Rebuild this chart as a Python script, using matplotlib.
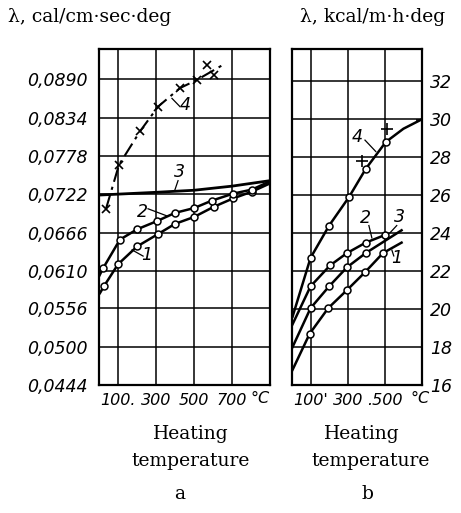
import matplotlib
matplotlib.use("Agg")
import matplotlib.pyplot as plt

# ---- panel a: lambda, cal/cm.sec.deg vs heating temperature ----
a_yticks = [0.0444, 0.0500, 0.0556, 0.0610, 0.0666, 0.0722, 0.0778, 0.0834, 0.0890]
a_ylabels = ['0,0444', '0,0500', '0,0556', '0,0610', '0,0666', '0,0722', '0,0778', '0,0834', '0,0890']
a_xticks = [100, 300, 500, 700]
a_xlabels = ['100.', '300', '500', '700']

a1_t = [26, 100, 200, 310, 400, 500, 605, 705, 805]
a1_v = [0.0588, 0.0620, 0.0646, 0.0664, 0.0679, 0.0689, 0.0704, 0.0716, 0.0726]
a1_line_t = [5, 26, 100, 200, 310, 400, 500, 605, 705, 805, 900]
a1_line_v = [0.0578, 0.0588, 0.0620, 0.0646, 0.0664, 0.0679, 0.0689, 0.0704, 0.0716, 0.0726, 0.0738]

a2_t = [21, 110, 200, 305, 400, 500, 595, 705, 805]
a2_v = [0.0614, 0.0656, 0.0671, 0.0683, 0.0695, 0.0702, 0.0713, 0.0723, 0.0729]
a2_line_t = [3, 21, 110, 200, 305, 400, 500, 595, 705, 805, 900]
a2_line_v = [0.0604, 0.0614, 0.0656, 0.0671, 0.0683, 0.0695, 0.0702, 0.0713, 0.0723, 0.0729, 0.0741]

a3_line_t = [0, 300, 500, 700, 900]
a3_line_v = [0.0721, 0.0725, 0.0728, 0.0734, 0.0742]

a4_t = [37, 105, 216, 311, 426, 516, 568, 605]
a4_v = [0.0701, 0.0765, 0.0814, 0.0850, 0.0877, 0.0889, 0.0911, 0.0896]
a4_line_t = [37, 105, 216, 311, 426, 516, 647]
a4_line_v = [0.0701, 0.0765, 0.0814, 0.0850, 0.0877, 0.0889, 0.0910]

# label position, leader start, leader end
a_labels = {
    '1': [(253, 0.0633), (174, 0.0641), (232, 0.0632)],
    '2': [(226, 0.0697), (258, 0.0701), (363, 0.0690)],
    '3': [(426, 0.0755), (416, 0.0742), (400, 0.0729)],
    '4': [(453, 0.0852), (384, 0.0862), (426, 0.0850)],
}

# ---- panel b: lambda, kcal/m.h.deg vs heating temperature ----
b_yticks = [16, 18, 20, 22, 24, 26, 28, 30, 32]
b_xticks = [100, 300, 500]
b_xlabels = ["100'", '300', '.500']

b1_t = [95, 195, 296, 394, 490]
b1_v = [18.7, 20.05, 21.0, 21.95, 22.95]
b1_line_t = [3, 95, 195, 296, 394, 490, 590]
b1_line_v = [16.8, 18.7, 20.05, 21.0, 21.95, 22.95, 23.5]

b2_t = [100, 205, 296, 397, 500]
b2_v = [21.2, 22.3, 22.95, 23.5, 23.9]
b2_line_t = [3, 100, 205, 296, 397, 500]
b2_line_v = [19.2, 21.2, 22.3, 22.95, 23.5, 23.9]

b3_t = [100, 200, 296, 397]
b3_v = [20.05, 21.2, 22.2, 22.95]
b3_line_t = [3, 100, 200, 296, 397, 590]
b3_line_v = [18.0, 20.05, 21.2, 22.2, 22.95, 24.15]

b4_t = [100, 200, 307, 398, 505]
b4_v = [22.7, 24.4, 25.9, 27.4, 28.8]
b4_cross_t = [376, 510, 700]
b4_cross_v = [27.8, 29.5, 29.95]
b4_line_t = [3, 100, 200, 307, 398, 505, 600, 700]
b4_line_v = [19.6, 22.7, 24.4, 25.9, 27.4, 28.8, 29.5, 30.0]

b_labels = {
    '1': [(565, 22.7), (538, 23.1), (548, 22.8)],
    '2': [(397, 24.8), (414, 24.4), (430, 23.75)],
    '3': [(580, 24.85), (564, 24.4), (526, 24.0)],
    '4': [(350, 29.05), (393, 28.9), (451, 28.3)],
}

W, H = 461, 513
fig = plt.figure(figsize=(W / 100, H / 100), dpi=100)
fig.patch.set_facecolor('white')

tick_font = dict(family='DejaVu Sans', style='italic', size=12.5)
xtick_font = dict(family='DejaVu Sans', style='italic', size=11.5)
serif = 'DejaVu Serif'


def style_axes(ax):
    for s in ax.spines.values():
        s.set_linewidth(1.6)
        s.set_color('black')
    ax.tick_params(length=0)
    ax.grid(True, color='black', linewidth=1.1)
    ax.set_axisbelow(True)


def add_labels(ax, labels):
    for name, (pos, p0, p1) in labels.items():
        ax.text(pos[0], pos[1], name, ha='center', va='center', **tick_font)
        ax.plot([p0[0], p1[0]], [p0[1], p1[1]], color='black', lw=0.9)


circle = dict(marker='o', markersize=5, markerfacecolor='white',
              markeredgecolor='black', markeredgewidth=1.1, linestyle='none')

# panel a
ax1 = fig.add_axes([99 / W, 1 - 385 / H, 171 / W, 336 / H])
ax1.set_xlim(0, 900)
ax1.set_ylim(0.0444, 0.0934)
ax1.set_xticks(a_xticks)
ax1.set_xticklabels(a_xlabels, **xtick_font)
ax1.set_yticks(a_yticks)
ax1.set_yticklabels(a_ylabels, **tick_font)
ax1.tick_params(axis='x', pad=6)
ax1.tick_params(axis='y', pad=8)
style_axes(ax1)

ax1.plot(a1_line_t, a1_line_v, color='black', lw=1.8)
ax1.plot(a1_t, a1_v, **circle)
ax1.plot(a2_line_t, a2_line_v, color='black', lw=1.8)
ax1.plot(a2_t, a2_v, **circle)
ax1.plot(a3_line_t, a3_line_v, color='black', lw=2.0)
ax1.plot(a4_line_t, a4_line_v, color='black', lw=1.5, dashes=[7, 2.5, 1.5, 2.5])
ax1.plot(a4_t, a4_v, marker='x', markersize=6, color='black', mew=1.2, linestyle='none')
add_labels(ax1, a_labels)
ax1.text(1.0, -0.04, '°C', transform=ax1.transAxes, ha='right', va='center', **xtick_font)

# panel b
ax2 = fig.add_axes([292 / W, 1 - 385 / H, 130 / W, 336 / H])
ax2.set_xlim(0, 700)
ax2.set_ylim(16, 33.7)
ax2.set_xticks(b_xticks)
ax2.set_xticklabels(b_xlabels, **xtick_font)
ax2.set_yticks(b_yticks)
ax2.set_yticklabels([str(v) for v in b_yticks], **tick_font)
ax2.yaxis.tick_right()
ax2.tick_params(axis='x', pad=6)
ax2.tick_params(axis='y', pad=6)
style_axes(ax2)

ax2.plot(b1_line_t, b1_line_v, color='black', lw=1.8)
ax2.plot(b1_t, b1_v, **circle)
ax2.plot(b2_line_t, b2_line_v, color='black', lw=1.8)
ax2.plot(b2_t, b2_v, **circle)
ax2.plot(b3_line_t, b3_line_v, color='black', lw=1.8)
ax2.plot(b3_t, b3_v, **circle)
ax2.plot(b4_line_t, b4_line_v, color='black', lw=1.8)
ax2.plot(b4_t, b4_v, **circle)
ax2.plot(b4_cross_t, b4_cross_v, marker='+', markersize=8, color='black', mew=1.2, linestyle='none')
add_labels(ax2, b_labels)
ax2.text(1.06, -0.04, '°C', transform=ax2.transAxes, ha='right', va='center', **xtick_font)

# headers and captions
fig.text(8 / W, 1 - 17 / H, 'λ, cal/cm·sec·deg', family=serif, size=13.5, ha='left', va='center')
fig.text(300 / W, 1 - 17 / H, 'λ, kcal/m·h·deg', family=serif, size=13.5, ha='left', va='center')
fig.text(191 / W, 1 - 434 / H, 'Heating', family=serif, size=13.5, ha='center', va='center')
fig.text(191 / W, 1 - 461 / H, 'temperature', family=serif, size=13.5, ha='center', va='center')
fig.text(362 / W, 1 - 434 / H, 'Heating', family=serif, size=13.5, ha='center', va='center')
fig.text(371 / W, 1 - 461 / H, 'temperature', family=serif, size=13.5, ha='center', va='center')
fig.text(180 / W, 1 - 494 / H, 'a', family=serif, size=13.5, ha='center', va='center')
fig.text(367 / W, 1 - 494 / H, 'b', family=serif, size=13.5, ha='center', va='center')

fig.savefig('out.png', dpi=100)
